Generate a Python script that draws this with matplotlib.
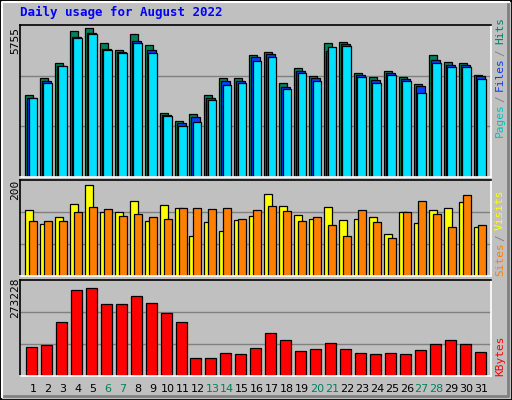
import matplotlib
matplotlib.use("Agg")
import matplotlib.pyplot as plt
from matplotlib.patches import Rectangle
from matplotlib.lines import Line2D

days = list(range(1, 32))
hits = [3087,3694,4263,5477,5591,5022,4756,5364,4946,2404,2100,2366,3087,3694,3694,4567,4681,3542,4073,3770,5022,5060,3884,3732,3960,3732,3504,4567,4301,4263,3808]
files = [2947,3580,4149,5250,5402,4794,4693,5098,4756,2328,2024,2252,2973,3580,3580,4491,4605,3390,3960,3694,4706,4971,3808,3631,3884,3656,3428,4377,4187,4187,3770]
pages = [2947,3542,4149,5212,5364,4756,4643,5022,4643,2290,1910,2062,2897,3466,3542,4339,4491,3314,3884,3580,4870,4908,3732,3542,3808,3580,3163,4263,4111,4111,3656]
visits = [140,111,126,153,193,136,136,159,117,151,145,86,115,96,119,128,174,149,130,121,147,119,121,126,90,136,113,140,145,157,105]
sites = [117,117,117,136,147,143,128,132,126,121,145,145,143,145,121,140,149,138,117,126,109,86,140,115,81,136,159,132,105,172,109]
kbytes = [86905,92635,161395,255940,261670,215830,215830,238750,218695,187180,161395,52525,52525,69715,66850,84040,127015,106960,75445,81175,98365,81175,69715,66850,69715,66850,78310,95500,106960,95500,72580]
weekend = [6,7,13,14,20,21,27,28]
max_hits, max_visits, max_kb = 5755, 200, 273228

W, H = 512, 400
fig = plt.figure(figsize=(W/100, H/100), dpi=100, facecolor="#C0C0C0")
BG = "#C0C0C0"
MONO = "DejaVu Sans Mono"

fig.add_artist(Rectangle((0, 0), 1, 1, transform=fig.transFigure, fill=False, ec="black", lw=2))
fig.add_artist(Line2D([2/W, 2/W, 1-3/W], [3/H, 1-2/H, 1-2/H], transform=fig.transFigure, color="white", lw=1.5))
fig.add_artist(Line2D([4/W, 1-4/W, 1-4/W], [4/H, 4/H, 1-4/H], transform=fig.transFigure, color="#808080", lw=2))

fig.text(20/W, 1-12/H, "Daily usage for August 2022", color="#0000FF", fontsize=9,
         fontweight="bold", family=MONO, va="center", ha="left")

L, R = 20, 491
SLOT = 14.95

def mkax(top, bot, ymax):
    ax = fig.add_axes([L/W, 1-bot/H, (R-L)/W, (bot-top)/H])
    ax.set_facecolor(BG)
    ax.set_xlim(0, R-L)
    ax.set_ylim(0, ymax)
    ax.set_xticks([]); ax.set_yticks([])
    for s in ["left", "top"]:
        ax.spines[s].set_color("black")
    for s in ["right", "bottom"]:
        ax.spines[s].set_color("white")
    for sp in ax.spines.values():
        sp.set_linewidth(1.2)
    for f in (1/3, 2/3):
        ax.axhline(ymax*f, color="#808080", lw=1, zorder=0)
    return ax

def bars(ax, vals, off, wid, color):
    xs = [i*SLOT + off for i in range(len(vals))]
    ax.bar(xs, vals, width=wid, align="edge", color=color, edgecolor="black", lw=0.9, zorder=2)

ax1 = mkax(25, 177, max_hits*0.99)
bars(ax1, hits, 5, 8, "#00805C")
bars(ax1, files, 7, 9, "#0040FF")
bars(ax1, pages, 8.5, 8.5, "#00E0FF")

ax2 = mkax(180, 276, max_visits*1.02)
bars(ax2, visits, 5, 8, "#FFFF00")
bars(ax2, sites, 9, 8, "#FF8000")

ax3 = mkax(280, 376, max_kb*1.05)
bars(ax3, kbytes, 6, 11, "#FF0000")

for y, lab in [(40, str(max_hits)), (190, str(max_visits)), (298, str(max_kb))]:
    fig.text(15/W, 1-y/H, lab, rotation=90, fontsize=8, family=MONO, va="center", ha="center")

def side(parts, ybottom):
    y = ybottom
    for txt, col in parts:
        t = txt.strip()
        lead = len(txt) - len(txt.lstrip())
        y -= lead*5.8
        fig.text(500/W, 1-y/H, t, rotation=90, fontsize=8, family=MONO, color=col,
                 va="bottom", ha="center")
        y -= (len(txt)-lead)*5.8
side([("Pages", "#00C0C0"), (" / ", "#808080"), ("Files", "#0040FF"), (" / ", "#808080"), ("Hits", "#00805C")], 137)
side([("Sites", "#FF8000"), (" / ", "#808080"), ("Visits", "#FFFF00")], 276)
side([("KBytes", "#FF0000")], 376)

for i, d in enumerate(days):
    x = L + 13 + i*SLOT
    fig.text(x/W, 1-389/H, str(d), fontsize=8, family="DejaVu Sans", ha="center", va="center",
             color="#00805C" if d in weekend else "black")

fig.savefig("out.png", dpi=100, facecolor=fig.get_facecolor())
